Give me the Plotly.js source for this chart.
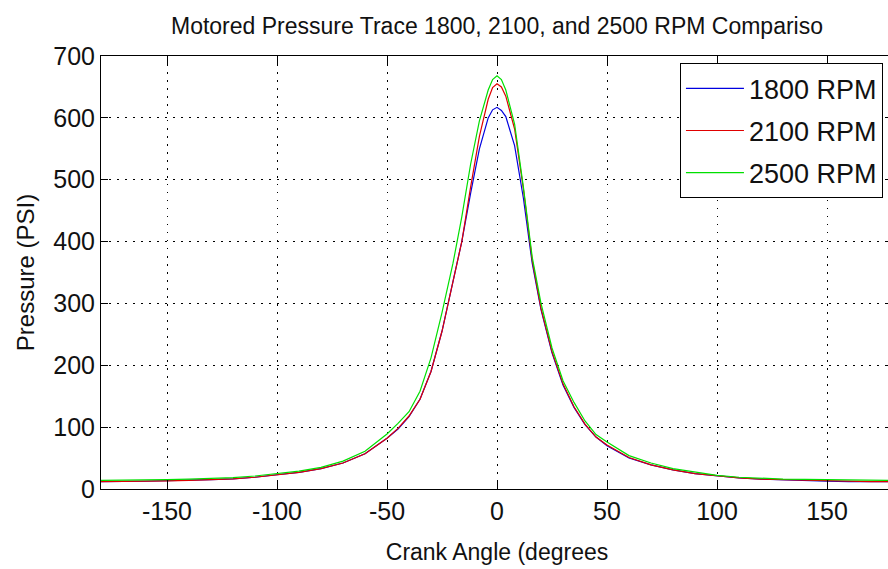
<!DOCTYPE html>
<html>
<head>
<meta charset="utf-8">
<script src="https://cdn.plot.ly/plotly-3.0.1.min.js"></script>
<style>
html, body { margin: 0; padding: 0; overflow: hidden; background: #fff; }
#chart { width: 900px; height: 569px; }
</style>
</head>
<body>
<div id="chart"></div>
<script>
const crankAngle = [-180,-170,-160,-150,-140,-130,-120,-110,-100,-90,-80,-70,-60,-50,-45,-40,-35,-30,-25,-20,-16,-12,-8,-4,-2,0,2,4,8,12,16,20,25,30,35,40,45,50,60,70,80,90,100,110,120,130,140,150,160,170,180];

const p1800 = [12,12,12.5,13.5,14,15,16.5,19,23,27,33,42,57,82,97,117,145,190,255,335,400,478,550,600,613,617,612,602,555,470,365,290,220,168,132,104,84,70,50,39,31,25,21,18,16,14.5,13.5,12.5,12,12,12];

const p2100 = [12,12,12.5,13,14,15,16.5,19,23,27,33,42,57,82,98,118,145,190,255,335,400,488,570,630,649,655,650,635,582,485,370,292,222,170,133,105,84,71,51,39,31,25,21,18,16,15,14,13,12.5,12,12];

const p2500 = [14,14,14.5,15,16,17,18.5,21,25,29,35,45,61,89,106,125,158,212,285,365,440,525,595,645,662,668,662,645,590,488,375,300,228,175,140,110,88,76,54,42,33,27,22,19,17,16,15.5,15,14.5,14,14];

const seriesNames = ['1800 RPM', '2100 RPM', '2500 RPM'];
const seriesColors = ['#0000e0', '#e00000', '#00e000'];
const seriesValues = [p1800, p2100, p2500];

const xTickVals = [-150, -100, -50, 0, 50, 100, 150];
const xTickText = ['-150', '-100', '-50', '0', '50', '100', '150'];
const yTickVals = [0, 100, 200, 300, 400, 500, 600, 700];
const yTickText = ['0', '100', '200', '300', '400', '500', '600', '700'];

const titleText = 'Motored Pressure Trace 1800, 2100, and 2500 RPM Compariso';
const xTitle = 'Crank Angle (degrees';
const yTitle = 'Pressure (PSI)';

const FONT = '"Liberation Sans", Arial, Helvetica, sans-serif';

const traces = seriesValues.map((vals, i) => ({
  type: 'scatter',
  mode: 'lines',
  x: crankAngle,
  y: vals,
  name: seriesNames[i],
  legendgroup: 'g' + i,
  line: { color: seriesColors[i], width: 1.2 }
}));

const axisCommon = {
  showline: true,
  linecolor: '#000',
  linewidth: 1,
  mirror: 'ticks',
  ticks: 'inside',
  tickcolor: '#000',
  tickwidth: 1,
  showgrid: true,
  gridcolor: '#000',
  gridwidth: 1,
  griddash: '1.5px,6.5px',
  zeroline: false,
  tickmode: 'array',
  tickfont: { family: FONT, size: 25, color: '#111' }
};

const layout = {
  width: 900,
  height: 569,
  margin: { l: 101, r: 7, t: 56, b: 80 },
  paper_bgcolor: '#fff',
  plot_bgcolor: '#fff',
  font: { family: FONT, color: '#000' },
  title: {
    text: titleText,
    font: { family: FONT, size: 23, color: '#111' },
    xref: 'paper', x: 0.5, xanchor: 'center',
    yref: 'container', y: 0.955, yanchor: 'middle'
  },
  xaxis: Object.assign({}, axisCommon, {
    range: [-180, 180],
    tickvals: xTickVals,
    ticktext: xTickText,
    ticklen: 9,
    title: { text: xTitle, font: { family: FONT, size: 23, color: '#111' }, standoff: 19 }
  }),
  yaxis: Object.assign({}, axisCommon, {
    range: [0, 700],
    tickvals: yTickVals,
    ticktext: yTickText,
    ticklen: 7,
    title: { text: yTitle, font: { family: FONT, size: 24, color: '#111' }, standoff: 11 }
  }),
  showlegend: true,
  legend: {
    x: 0.731, xanchor: 'left',
    y: 0.983, yanchor: 'top',
    bgcolor: '#fff',
    bordercolor: '#000',
    borderwidth: 1,
    font: { family: FONT, size: 27, color: '#111' },
    traceorder: 'grouped',
    tracegroupgap: 4,
    itemwidth: 58
  }
};

Plotly.newPlot('chart', traces, layout, { displayModeBar: false, staticPlot: true });
</script>
</body>
</html>
